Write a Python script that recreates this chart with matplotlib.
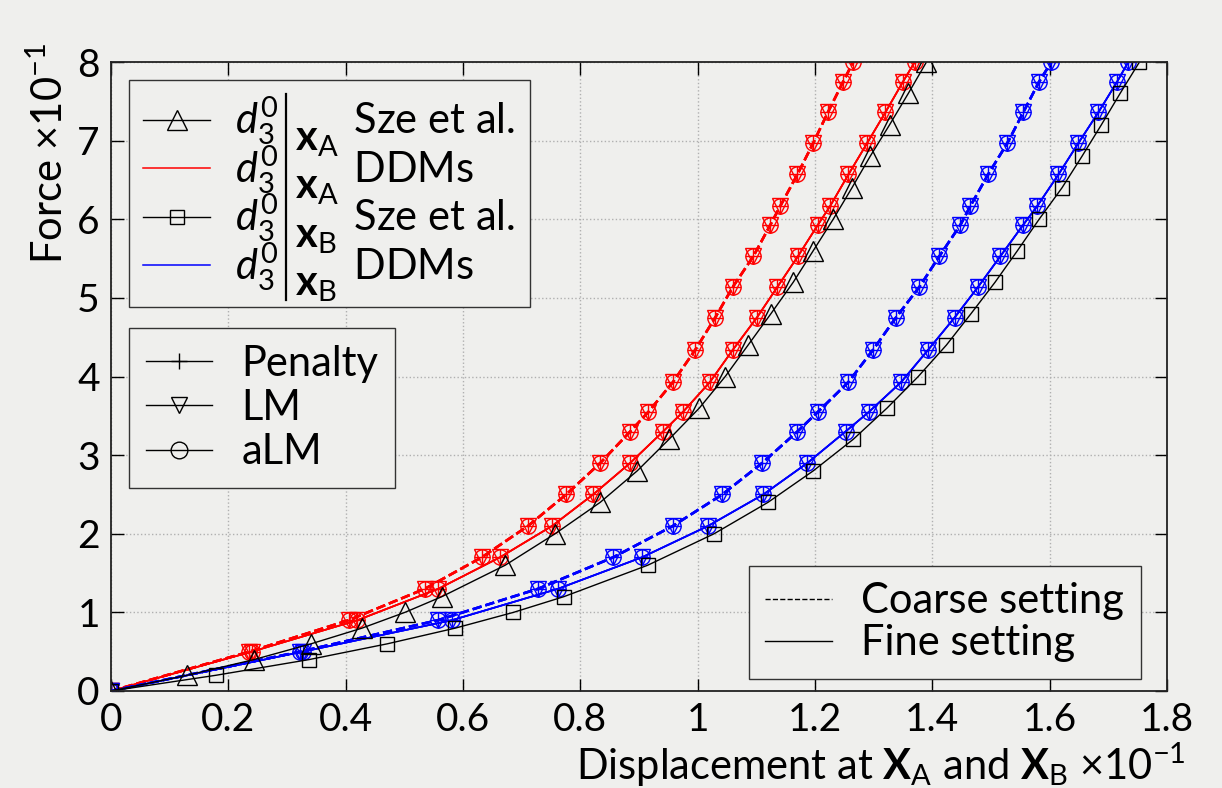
import matplotlib
matplotlib.use('Agg')
import matplotlib.pyplot as plt
from matplotlib.lines import Line2D
from matplotlib.transforms import IdentityTransform

# Sze et al. reference points (force levels and displacements at x_A / x_B)
force_sze = [0, 0.2, 0.4, 0.6, 0.8, 1.0, 1.2, 1.6, 2.0, 2.4, 2.8, 3.2, 3.6, 4.0,
             4.4, 4.8, 5.2, 5.6, 6.0, 6.4, 6.8, 7.2, 7.6, 8.0]
disp_sze_A = [0, 0.13, 0.244, 0.341, 0.428, 0.501, 0.564, 0.672, 0.757, 0.834,
              0.897, 0.951, 1.003, 1.047, 1.086, 1.125, 1.163, 1.197, 1.231,
              1.263, 1.294, 1.327, 1.359, 1.39]
disp_sze_B = [0, 0.179, 0.338, 0.471, 0.587, 0.686, 0.772, 0.915, 1.028, 1.12,
              1.197, 1.265, 1.323, 1.376, 1.424, 1.466, 1.507, 1.545, 1.582,
              1.621, 1.655, 1.688, 1.72, 1.753]

# DDM results (same load steps for all)
force_ddm = [0, 0.5, 0.9, 1.3, 1.7, 2.1, 2.5, 2.9, 3.3, 3.55, 3.93, 4.34, 4.75,
             5.14, 5.53, 5.93, 6.17, 6.57, 6.97, 7.36, 7.75, 8.0]
disp_A_coarse = [0, 0.236, 0.405, 0.535, 0.632, 0.711, 0.776, 0.834, 0.885,
                 0.916, 0.958, 0.996, 1.03, 1.06, 1.095, 1.124, 1.141, 1.17,
                 1.197, 1.222, 1.248, 1.265]
disp_A_fine = [0, 0.24, 0.42, 0.558, 0.663, 0.752, 0.822, 0.885, 0.941, 0.975,
               1.021, 1.06, 1.101, 1.136, 1.171, 1.205, 1.226, 1.257, 1.289,
               1.32, 1.35, 1.37]
disp_B_coarse = [0, 0.322, 0.557, 0.728, 0.856, 0.958, 1.042, 1.11, 1.17,
                 1.205, 1.257, 1.299, 1.338, 1.378, 1.412, 1.448, 1.465, 1.495,
                 1.528, 1.555, 1.582, 1.603]
disp_B_fine = [0, 0.327, 0.581, 0.762, 0.905, 1.018, 1.112, 1.187, 1.252,
               1.292, 1.347, 1.393, 1.438, 1.478, 1.516, 1.555, 1.579, 1.615,
               1.649, 1.683, 1.715, 1.734]

methods = ['Penalty', 'LM', 'aLM']
method_markers = ['+', 'v', 'o']
ref_names = ['Sze et al.', 'DDMs', 'Sze et al.', 'DDMs']
ref_points = [r'$\mathbf{x}_{\mathrm{A}}$', r'$\mathbf{x}_{\mathrm{A}}$',
              r'$\mathbf{x}_{\mathrm{B}}$', r'$\mathbf{x}_{\mathrm{B}}$']
settings = ['Coarse setting', 'Fine setting']

x_ticks = [0, 0.2, 0.4, 0.6, 0.8, 1.0, 1.2, 1.4, 1.6, 1.8]
x_ticklabels = ['0', '0.2', '0.4', '0.6', '0.8', '1', '1.2', '1.4', '1.6', '1.8']
y_ticks = [0, 1, 2, 3, 4, 5, 6, 7, 8]

BG = '#efefed'
FS = 30

plt.rcParams['font.family'] = ['Lato', 'DejaVu Sans']
plt.rcParams['mathtext.fontset'] = 'custom'
plt.rcParams['mathtext.rm'] = 'Lato'
plt.rcParams['mathtext.it'] = 'Lato:italic'
plt.rcParams['mathtext.bf'] = 'Lato:bold'
plt.rcParams['mathtext.sf'] = 'Lato'


def main():
    fig = plt.figure(figsize=(12.22, 7.88), dpi=100, facecolor=BG)
    ax = fig.add_axes([0.0908, 0.1231, 0.8642, 0.7982])
    ax.set_facecolor(BG)

    # DDM curves, three methods on top of each other
    for disp, col, ls in [(disp_A_coarse, 'red', '--'), (disp_A_fine, 'red', '-'),
                          (disp_B_coarse, 'blue', '--'), (disp_B_fine, 'blue', '-')]:
        for mk in method_markers:
            ax.plot(disp, force_ddm, color=col, linestyle=ls,
                    lw=1.8 if ls == '--' else 1.2,
                    marker=mk, markersize=11, markerfacecolor='none',
                    markeredgecolor=col, markeredgewidth=1.0)

    # Sze et al.
    ax.plot(disp_sze_A, force_sze, color='black', lw=1.0, marker='^',
            markersize=14, markerfacecolor='none', markeredgewidth=1.0)
    ax.plot(disp_sze_B, force_sze, color='black', lw=1.0, marker='s',
            markersize=10, markerfacecolor='none', markeredgewidth=1.0)

    ax.set_xlim(0, 1.8)
    ax.set_ylim(0, 8)
    ax.set_xticks(x_ticks)
    ax.set_xticklabels(x_ticklabels)
    ax.set_yticks(y_ticks)
    ax.tick_params(direction='in', length=9, width=1, labelsize=28,
                   top=True, right=True, pad=8)
    ax.grid(True, linestyle=':', color='#b0b0b0', lw=1)
    for s in ax.spines.values():
        s.set_linewidth(1.3)
        s.set_color('#222222')

    ax.set_xlabel(r'Displacement at $\mathbf{X}_{\mathrm{A}}$ and '
                  r'$\mathbf{X}_{\mathrm{B}}$ $\times10^{-1}$', fontsize=FS,
                  loc='right')
    ax.xaxis.set_label_coords(1.018, -0.08)
    ax.set_ylabel(r'Force $\times10^{-1}$', fontsize=FS, loc='top')
    ax.yaxis.set_label_coords(-0.039, 1.03)

    leg_kw = dict(fontsize=FS, frameon=True, fancybox=False, framealpha=1,
                  facecolor=BG, edgecolor='#333333', borderaxespad=0)

    # legend 1: Sze et al. vs DDMs (bar and evaluation point added below)
    h1 = [Line2D([], [], color='black', lw=1, marker='^', markersize=14,
                 markerfacecolor='none'),
          Line2D([], [], color='red', lw=1.1),
          Line2D([], [], color='black', lw=1, marker='s', markersize=10,
                 markerfacecolor='none'),
          Line2D([], [], color='blue', lw=1.1)]
    lab1 = [r'$d_3^0\hspace{2.3}$' + name for name in ref_names]
    leg1 = ax.legend(h1, lab1, loc='upper left', bbox_to_anchor=(0.017, 0.971),
                     handlelength=1.6, handletextpad=0.6, labelspacing=-0.1,
                     borderpad=0.35, **leg_kw)
    leg1.get_frame().set_linewidth(1)
    ax.add_artist(leg1)

    # legend 2: methods
    h2 = [Line2D([], [], color='black', lw=1, marker=mk, markersize=12,
                 markerfacecolor='none') for mk in method_markers]
    leg2 = ax.legend(h2, methods, loc='upper left', bbox_to_anchor=(0.017, 0.577),
                     handlelength=1.6, handletextpad=0.7, labelspacing=0.15,
                     **leg_kw)
    leg2.get_frame().set_linewidth(1)
    ax.add_artist(leg2)

    # legend 3: coarse / fine
    h3 = [Line2D([], [], color='black', lw=1, linestyle='--'),
          Line2D([], [], color='black', lw=1, linestyle='-')]
    leg3 = ax.legend(h3, settings, loc='lower right',
                     bbox_to_anchor=(0.975, 0.019), handlelength=1.6,
                     handletextpad=0.7, labelspacing=0.1, **leg_kw)
    leg3.get_frame().set_linewidth(1)

    # evaluation bar |_{x} next to d_3^0 in legend 1
    fig.canvas.draw()
    renderer = fig.canvas.get_renderer()
    texts = leg1.get_texts()
    prop = texts[0].get_fontproperties()
    wd = renderer.get_text_width_height_descent(r'$d_3^0$', prop, ismath=True)[0]
    bases = []
    for t, sub in zip(texts, ref_points):
        bb = t.get_window_extent(renderer)
        d = renderer.get_text_width_height_descent(t.get_text(), prop,
                                                   ismath=True)[2]
        base = bb.y0 + d
        bases.append(base)
        fig.text(bb.x0 + wd + 17, base - 16, sub, fontsize=FS,
                 transform=IdentityTransform(), va='baseline')
    xb = texts[0].get_window_extent(renderer).x0 + wd + 8
    top = bases[0] + 40
    bottom = bases[-1] - 20
    fig.add_artist(Line2D([xb, xb], [bottom, top], color='black', lw=1.6,
                          transform=IdentityTransform()))

    fig.savefig('out.png', dpi=100, facecolor=BG)


if __name__ == '__main__':
    main()
